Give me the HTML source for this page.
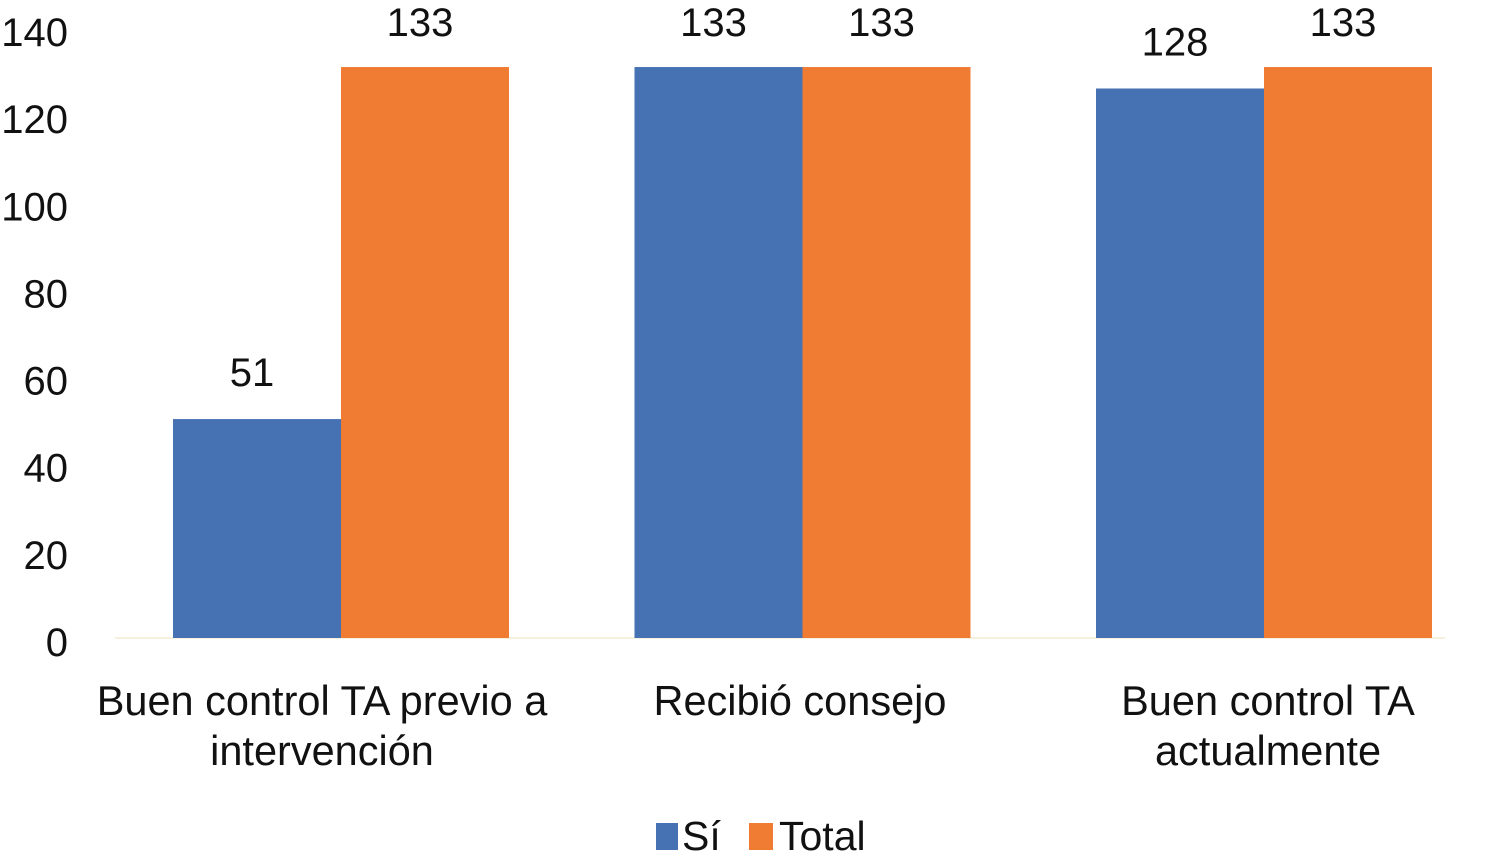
<!DOCTYPE html>
<html><head><meta charset="utf-8"><style>
body{margin:0;background:#fff;}
svg{display:block;font-family:"Liberation Sans",Arial,sans-serif;}
</style></head><body>
<svg id="chart" width="1503" height="859">
<g id="axis"></g><g id="bars"></g><g id="labels"></g>
<g>
<rect x="656" y="823" width="22" height="27" fill="#4672b4"/>
<text x="682" y="850" font-size="41" fill="#111">Sí</text>
<rect x="749" y="823" width="24" height="27" fill="#f07c33"/>
<text x="779" y="850" font-size="41" fill="#111">Total</text>
</g>
</svg>
<script>
const categories=[["Buen control TA previo a","intervención"],["Recibió consejo"],["Buen control TA","actualmente"]];
const siValues=[51,133,128];
const totalValues=[133,133,133];
const yTicks=[0,20,40,60,80,100,120,140];
const NS="http://www.w3.org/2000/svg";
const base=638, perUnit=4.293, groupStart=341, groupStep=461.5, barW=168;
const y=v=>base-v*perUnit;
const tickY=v=>642-v*(610/140);
const gx=i=>groupStart+i*groupStep;
const labelCx=[322,800,1268];
function mk(tag,attrs,parent){const e=document.createElementNS(NS,tag);for(const k in attrs)e.setAttribute(k,attrs[k]);parent.appendChild(e);return e;}
const axis=document.getElementById('axis'),bars=document.getElementById('bars'),labels=document.getElementById('labels');
yTicks.forEach(t=>{const e=mk('text',{x:68,y:tickY(t)+14,'text-anchor':'end','font-size':'40',fill:'#111'},axis);e.textContent=t;

});
const bl=mk('line',{x1:115,x2:1445,y1:base,y2:base,stroke:'#f3ecd0','stroke-width':1.5},axis);


categories.forEach((c,i)=>{
 [[siValues[i],'#4672b4',-barW,'si'],[totalValues[i],'#f07c33',0,'total']].forEach(([v,col,off,n])=>{
  const r=mk('rect',{x:gx(i)+off,y:y(v),width:barW,height:base-y(v),fill:col},bars);
  
  
  const t=mk('text',{x:gx(i)+off+barW/2-5,y:Math.max(y(v)-33,36),'text-anchor':'middle','font-size':'40',fill:'#111'},labels);
  t.textContent=v;
  
  
 });
 c.forEach((line,j)=>{const t=mk('text',{x:labelCx[i],y:715+j*50,'text-anchor':'middle','font-size':'41.5',fill:'#111'},labels);
  t.textContent=line;
  
  });
});
</script>
</body></html>
